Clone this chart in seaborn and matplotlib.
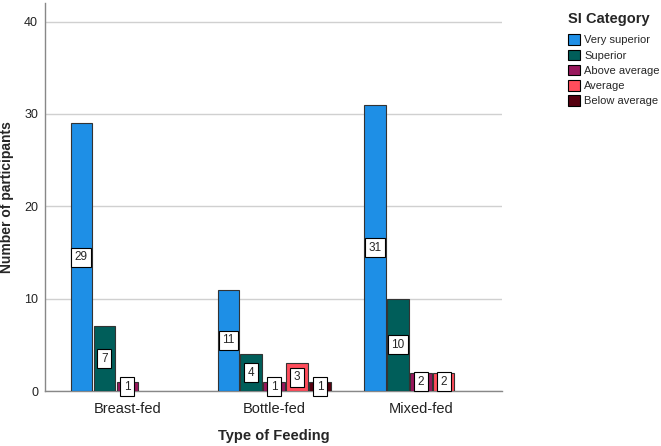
import matplotlib
matplotlib.use('Agg')
import matplotlib.pyplot as plt
import seaborn as sns
import pandas as pd

feeding = ['Breast-fed', 'Bottle-fed', 'Mixed-fed']
categories = ['Very superior', 'Superior', 'Above average', 'Average', 'Below average']
# counts per feeding type, in category order (None = no participants)
breast_fed = [29, 7, 1, None, None]
bottle_fed = [11, 4, 1, 3, 1]
mixed_fed = [31, 10, 2, 2, None]
colors = ['#1E8FE6', '#005E5A', '#98175C', '#FF4D5C', '#560010']

rows = []
for feed, counts in zip(feeding, [breast_fed, bottle_fed, mixed_fed]):
    for cat, n in zip(categories, counts):
        if n is not None:
            rows.append({'feeding': feed, 'category': cat, 'count': n})
df = pd.DataFrame(rows)

sns.set_style('white')
plt.rcParams['font.family'] = ['Liberation Sans', 'DejaVu Sans']

fig = plt.figure(figsize=(6.61, 4.46), dpi=100)
ax = fig.add_axes([0.068, 0.123, 0.691, 0.870])

sns.barplot(data=df, x='feeding', y='count', hue='category', order=feeding,
            hue_order=categories, palette=colors, saturation=1, width=0.78, gap=0.07,
            edgecolor='#333333', linewidth=0.8, ax=ax, zorder=3)

for cont in ax.containers:
    for bar in cont:
        h = bar.get_height()
        if h and h > 0:
            ax.text(bar.get_x() + bar.get_width() / 2, h / 2, f'{int(h)}',
                    ha='center', va='center', fontsize=8.5, zorder=5,
                    bbox=dict(boxstyle='square,pad=0.3', fc='white',
                              ec='black', lw=0.8))

ax.set_ylim(0, 42)
ax.set_xlim(-0.56, 2.55)
ax.set_yticks([0, 10, 20, 30, 40])
ax.yaxis.grid(True, color='#d0d0d0', lw=1)
ax.set_axisbelow(True)
ax.tick_params(axis='both', length=0, labelsize=9, labelcolor='#222222', pad=5)
ax.tick_params(axis='x', labelsize=10.5, pad=8)
for s in ['top', 'right']:
    ax.spines[s].set_visible(False)
for s in ['left', 'bottom']:
    ax.spines[s].set_color('#888888')
    ax.spines[s].set_linewidth(1)

ax.set_xlabel('Type of Feeding', fontsize=10.5, fontweight='bold')
ax.xaxis.set_label_coords(0.5, -0.097)
ax.set_ylabel('Number of participants', fontsize=10, fontweight='bold')
ax.yaxis.set_label_coords(-0.068, 0.5)

leg = ax.legend(title='SI Category', loc='upper left',
                bbox_to_anchor=(568 / 661, 1 - 12 / 446), bbox_transform=fig.transFigure,
                frameon=False, fontsize=8, title_fontsize=10.5,
                handlelength=1.08, handleheight=1.08, handletextpad=0.36,
                labelspacing=0.38, alignment='left', borderpad=0, borderaxespad=0)
leg.get_title().set_fontweight('bold')
leg._legend_box.sep += 3  # a bit more room under the title
for h in leg.legend_handles:
    h.set_edgecolor('black')
    h.set_linewidth(0.8)

fig.savefig('out.png', dpi=100)
